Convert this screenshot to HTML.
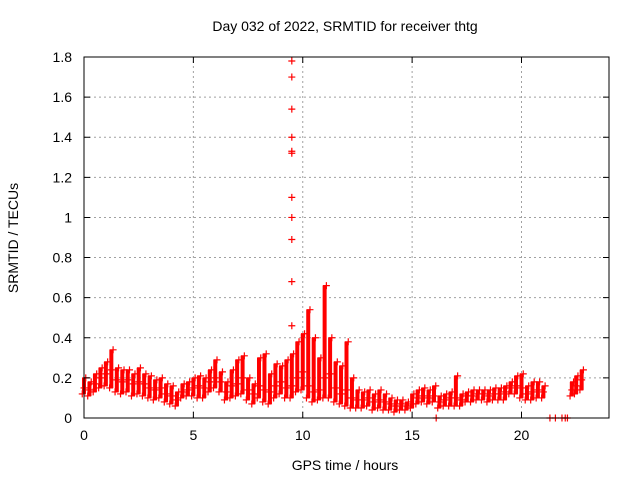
<!DOCTYPE html>
<html><head><meta charset="utf-8"><style>
html,body{margin:0;padding:0;background:#fff;}
svg{display:block;font-family:"Liberation Sans",sans-serif;}
</style></head><body>
<svg id="chart" width="640" height="480" viewBox="0 0 640 480" xmlns="http://www.w3.org/2000/svg">
<text x="345" y="31" font-size="14" text-anchor="middle">Day 032 of 2022, SRMTID for receiver thtg</text>
<text x="18" y="238" font-size="14" text-anchor="middle" transform="rotate(-90 18 238)">SRMTID / TECUs</text>
<text x="345" y="470" font-size="14" text-anchor="middle">GPS time / hours</text>
<g id="grid"></g>
<g id="marks"></g>
<g id="axes"></g>
</svg>
<script>
const times=[0,0.25,0.5,0.75,1,1.25,1.5,1.75,2,2.25,2.5,2.75,3,3.25,3.5,3.75,4,4.25,4.5,4.75,5,5.25,5.5,5.75,6,6.25,6.5,6.75,7,7.25,7.5,7.75,8,8.25,8.5,8.75,9,9.25,9.5,9.75,10,10.25,10.5,10.75,11,11.25,11.5,11.75,12,12.25,12.5,12.75,13,13.25,13.5,13.75,14,14.25,14.5,14.75,15,15.25,15.5,15.75,16,16.25,16.5,16.75,17,17.25,17.5,17.75,18,18.25,18.5,18.75,19,19.25,19.5,19.75,20,20.25,20.5,20.75,21,22.3,22.5,22.75];
const midVals=[.15,.14,.17,.20,.22,.24,.19,.18,.19,.17,.18,.17,.15,.14,.15,.12,.11,.09,.13,.14,.15,.16,.15,.18,.20,.18,.13,.16,.17,.20,.14,.12,.16,.14,.13,.16,.18,.15,.16,.20,.23,.16,.13,.14,.20,.22,.15,.12,.14,.10,.09,.09,.10,.08,.09,.08,.07,.06,.07,.06,.07,.10,.11,.10,.11,.08,.09,.10,.10,.09,.11,.11,.12,.12,.11,.12,.12,.13,.15,.16,.15,.12,.13,.14,.13,.14,.16,.19];
const lowVals=[.12,.11,.13,.15,.16,.15,.13,.12,.13,.11,.12,.11,.10,.09,.10,.08,.07,.06,.10,.11,.11,.10,.10,.13,.15,.13,.09,.10,.11,.12,.09,.07,.10,.08,.07,.10,.12,.10,.10,.13,.14,.10,.08,.09,.10,.10,.08,.07,.06,.05,.05,.05,.06,.04,.05,.04,.04,.03,.04,.04,.05,.07,.08,.07,.08,.05,.06,.06,.06,.06,.08,.08,.09,.09,.08,.09,.09,.09,.12,.12,.10,.09,.09,.10,.10,.11,.12,.14];
const highVals=[.20,.18,.22,.25,.28,.34,.25,.24,.24,.22,.25,.22,.21,.19,.20,.17,.16,.13,.17,.18,.20,.21,.20,.24,.29,.23,.18,.24,.29,.31,.20,.17,.30,.32,.22,.27,.26,.29,.32,.38,.42,.54,.40,.30,.66,.40,.28,.26,.38,.20,.14,.13,.14,.12,.14,.12,.10,.09,.09,.08,.12,.14,.15,.14,.16,.11,.12,.13,.21,.12,.13,.14,.14,.14,.14,.15,.15,.16,.18,.21,.22,.16,.18,.18,.16,.18,.21,.24];
const spikeTime=9.5;
const spikeVals=[.46,.68,.89,1.0,1.1,1.32,1.33,1.4,1.54,1.7,1.78];
const zeroTimes=[16.1,21.3,21.55,21.85,22.0,22.1];
const xTicks=[0,5,10,15,20];
const yTicks=[0,0.2,0.4,0.6,0.8,1,1.2,1.4,1.6,1.8];
const yTickLabels=["0","0.2","0.4","0.6","0.8","1","1.2","1.4","1.6","1.8"];

const X0=84,X1=609,Y0=418,Y1=57;
const xs=t=>X0+t*(X1-X0)/24;
const ys=v=>Y0-v*(Y0-Y1)/1.8;
const NS="http://www.w3.org/2000/svg";
function mk(tag,attrs,parent){const e=document.createElementNS(NS,tag);for(const k in attrs)e.setAttribute(k,attrs[k]);parent.appendChild(e);return e;}
const grid=document.getElementById('grid'),marks=document.getElementById('marks'),axes=document.getElementById('axes');
xTicks.forEach(t=>{
 if(t>0){const l=mk('line',{x1:xs(t),x2:xs(t),y1:Y0,y2:Y1,stroke:'#a0a0a0','stroke-dasharray':'2,3'},grid);
 
 }
 const tk=mk('path',{d:`M${xs(t)},${Y0}v-6M${xs(t)},${Y1}v6`,stroke:'#000'},axes);
 
 
 const tx=mk('text',{x:xs(t),y:Y0+22,'font-size':14,'text-anchor':'middle'},axes);tx.textContent=t;
 
 
});
yTicks.forEach((v,i)=>{
 if(v>0&&v<1.8){const l=mk('line',{x1:X0,x2:X1,y1:ys(v),y2:ys(v),stroke:'#a0a0a0','stroke-dasharray':'2,3'},grid);
 
 }
 const tk=mk('path',{d:`M${X0},${ys(v)}h6M${X1},${ys(v)}h-6`,stroke:'#000'},axes);
 
 
 const tx=mk('text',{x:X0-12,y:ys(v)+5,'font-size':14,'text-anchor':'end'},axes);tx.textContent=yTickLabels[i];
 
 
});
const frame=mk('rect',{x:X0,y:Y1,width:X1-X0,height:Y0-Y1,fill:'none',stroke:'#000'},axes);


function plus(t,v){const x=xs(t),y=ys(v);const p=mk('path',{d:`M${x-3.5},${y}h7M${x},${y-3.5}v7`,stroke:'#f00','stroke-width':1.2},marks);
 
 }
times.forEach((t,i)=>{
 const b=mk('line',{x1:xs(t),x2:xs(t),y1:ys(lowVals[i]),y2:ys(highVals[i]),stroke:'#f00','stroke-width':4},marks);
 
 
 plus(t-0.08,lowVals[i]);plus(t,midVals[i]);plus(t+0.08,highVals[i]);
});
spikeVals.forEach(v=>plus(spikeTime,v));
zeroTimes.forEach(t=>plus(t,0));
</script>
</body></html>
